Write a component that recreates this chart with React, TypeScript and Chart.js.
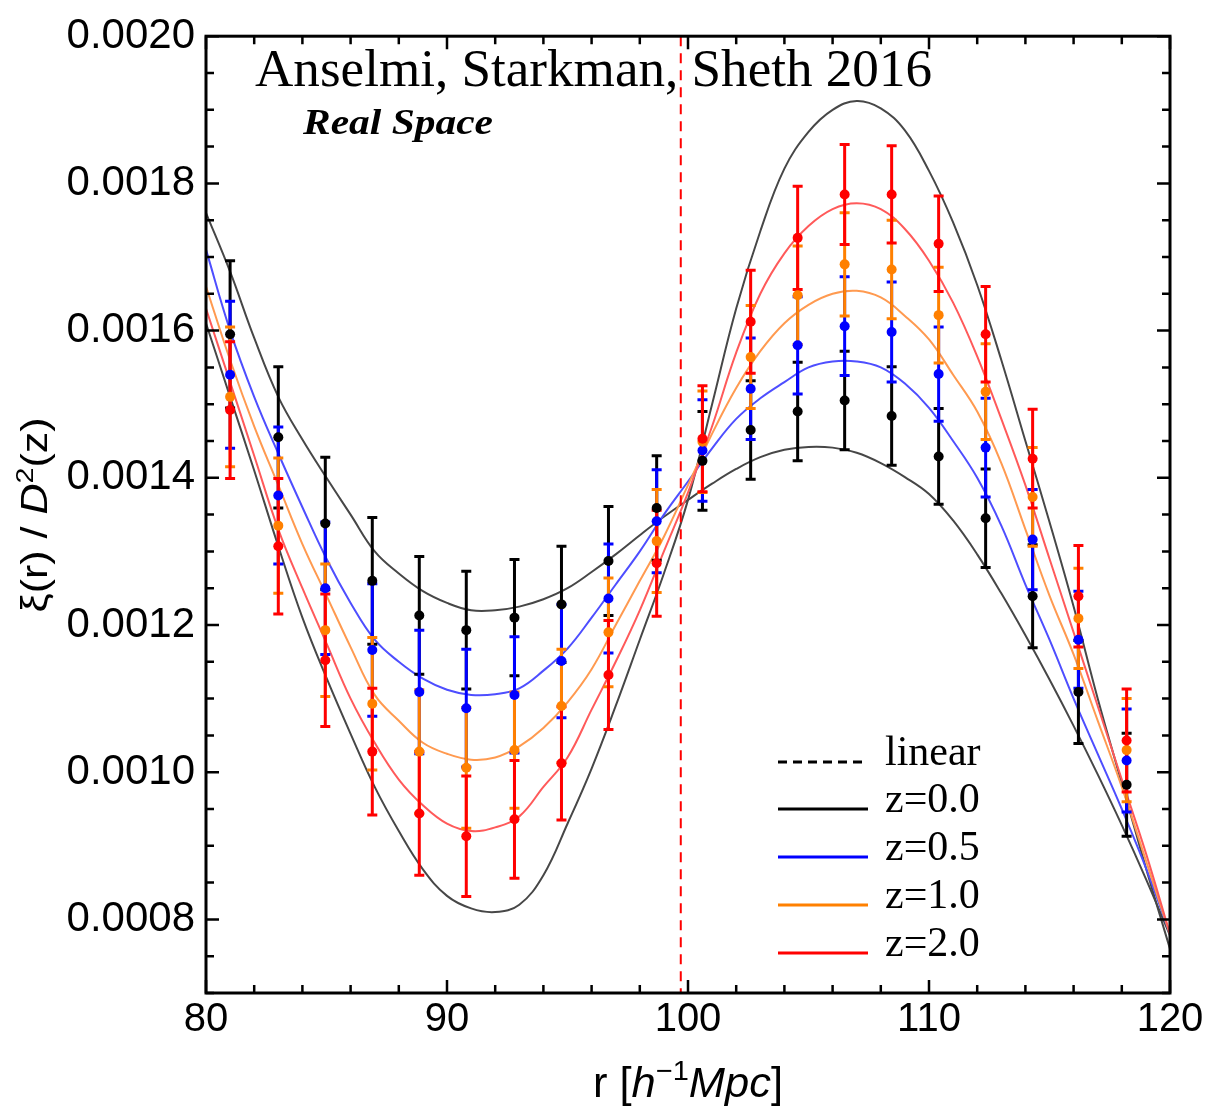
import React, { useEffect, useRef } from 'react';
import { Chart, registerables } from 'chart.js';

Chart.register(...registerables);

// ---------- data ----------
const curveR = [80, 81, 82, 83, 84, 85, 86, 87, 88, 89, 90, 91, 92, 93, 94, 95, 96, 97, 98, 99, 100,
  101, 102, 103, 104, 105, 106, 107, 108, 109, 110, 111, 112, 113, 114, 115, 116, 117, 118, 119, 120];

const linearCurve = [0.00161, 0.00151, 0.00141, 0.001307, 0.00121, 0.001128, 0.001052, 0.00098, 0.00092, 0.000868, 0.000832,
  0.000815, 0.00081, 0.00082, 0.00086, 0.00093, 0.001005, 0.00109, 0.00118, 0.00127, 0.00137,
  0.0015, 0.00163, 0.001735, 0.00182, 0.00187, 0.0019, 0.001912, 0.001902, 0.001872, 0.001817,
  0.001747, 0.001662, 0.00156, 0.00145, 0.00134, 0.001225, 0.0011, 0.000985, 0.00087, 0.00076];

const z00Curve = [0.00176, 0.00168, 0.00159, 0.00151, 0.001452, 0.0014, 0.00135, 0.0013, 0.00127, 0.001246, 0.00123,
  0.00122, 0.00122, 0.001225, 0.001235, 0.00125, 0.001272, 0.001296, 0.001322, 0.001347, 0.00137,
  0.001392, 0.001412, 0.001428, 0.001438, 0.001442, 0.001441, 0.001434, 0.00142, 0.001401, 0.001378,
  0.001342, 0.001296, 0.001243, 0.001186, 0.001126, 0.001063, 0.000997, 0.000928, 0.000855, 0.000778];

const z05Curve = [0.00171, 0.0016, 0.00151, 0.001433, 0.00136, 0.00129, 0.00123, 0.00118, 0.00115, 0.001127, 0.001112,
  0.001105, 0.001106, 0.001114, 0.001138, 0.001168, 0.00121, 0.001255, 0.0013, 0.00135, 0.001395,
  0.00144, 0.00148, 0.001508, 0.00153, 0.00155, 0.001558, 0.001558, 0.00155, 0.001528, 0.001495,
  0.00145, 0.0014, 0.001335, 0.001255, 0.00118, 0.0011, 0.001025, 0.00095, 0.00087, 0.00078];

const z10Curve = [0.00166, 0.00156, 0.00147, 0.00139, 0.00131, 0.00124, 0.00117, 0.001105, 0.00107, 0.00104, 0.001025,
  0.001017, 0.00102, 0.001035, 0.00106, 0.001095, 0.00114, 0.0012, 0.00126, 0.00132, 0.00139,
  0.00146, 0.001522, 0.001572, 0.00161, 0.001635, 0.00165, 0.001654, 0.001645, 0.00162, 0.001588,
  0.00154, 0.00149, 0.00142, 0.00133, 0.00124, 0.00116, 0.00107, 0.00098, 0.00088, 0.00078];

const z20Curve = [0.00163, 0.00153, 0.00143, 0.00133, 0.00125, 0.001175, 0.0011, 0.00104, 0.00099, 0.000955, 0.00093,
  0.00092, 0.000925, 0.00094, 0.00098, 0.00102, 0.001085, 0.00115, 0.00122, 0.0013, 0.00138,
  0.00147, 0.00157, 0.00165, 0.001705, 0.001742, 0.001765, 0.001773, 0.001765, 0.001738, 0.001695,
  0.001638, 0.001565, 0.00148, 0.00139, 0.00129, 0.00119, 0.00109, 0.00099, 0.00089, 0.00078];

const pointR = [81.0, 83.0, 84.95, 86.9, 88.85, 90.8, 92.8, 94.75, 96.7, 98.7,
  100.6, 102.6, 104.55, 106.5, 108.45, 110.4, 112.35, 114.3, 116.2, 118.2];

const z00Pts = [0.001595, 0.001455, 0.001338, 0.00126, 0.001213, 0.001193, 0.00121, 0.001228, 0.001287, 0.001359,
  0.001423, 0.001465, 0.00149, 0.001505, 0.001484, 0.001429, 0.001345, 0.001239, 0.001109, 0.000983];
const z00Err = [0.0001, 0.000096, 0.00009, 0.000086, 0.00008, 0.00008, 0.000079, 0.000079, 0.000074, 0.000071,
  0.000067, 0.000067, 0.000067, 0.000067, 0.000067, 0.000065, 0.000067, 0.00007, 0.00007, 0.00007];

const z05Pts = [0.00154, 0.001376, 0.00125, 0.001166, 0.001109, 0.001087, 0.001105, 0.001151, 0.001236, 0.001341,
  0.001437, 0.001521, 0.00158, 0.001606, 0.001598, 0.001541, 0.001441, 0.001316, 0.00118, 0.001016];
const z05Err = [0.0001, 0.000093, 0.00009, 0.00009, 0.000084, 0.00008, 0.000079, 0.000077, 0.000074, 0.00007,
  0.000069, 0.000069, 0.000066, 0.000067, 0.000068, 0.000064, 0.000067, 0.000068, 0.000066, 0.00007];

const z10Pts = [0.00151, 0.001335, 0.001193, 0.001093, 0.001028, 0.001006, 0.00103, 0.00109, 0.00119, 0.001314,
  0.001449, 0.001564, 0.001648, 0.00169, 0.001683, 0.001621, 0.001517, 0.001374, 0.001209, 0.00103];
const z10Err = [0.000095, 0.000092, 0.00009, 0.00009, 0.000084, 0.000082, 0.000079, 0.000077, 0.000074, 0.00007,
  0.000069, 0.00007, 0.000067, 0.00007, 0.000067, 0.000065, 0.000065, 0.000067, 0.000068, 0.00007];

const z20Pts = [0.001492, 0.001307, 0.001152, 0.001028, 0.000944, 0.000913, 0.000936, 0.001012, 0.001132, 0.001284,
  0.001453, 0.001612, 0.001726, 0.001785, 0.001785, 0.001718, 0.001595, 0.001426, 0.001239, 0.001043];
const z20Err = [0.000093, 0.000092, 0.00009, 0.000086, 0.000084, 0.000082, 0.00008, 0.000077, 0.000074, 0.000072,
  0.000072, 0.00007, 0.00007, 0.000068, 0.000066, 0.000065, 0.000065, 0.000067, 0.000069, 0.00007];

const xTickValues = [80, 90, 100, 110, 120];
const yTickValues = [0.0008, 0.001, 0.0012, 0.0014, 0.0016, 0.0018, 0.002];
const legendLabels = ['linear', 'z=0.0', 'z=0.5', 'z=1.0', 'z=2.0'];
const titleText = 'Anselmi, Starkman, Sheth 2016';
const subtitleText = 'Real Space';
const bcrR = 99.7;

// ---------- helpers ----------
type Part = { t: string; font: string; dy?: number };

function drawParts(ctx: CanvasRenderingContext2D, parts: Part[], targetW: number, align: 'left' | 'center') {
  const widths = parts.map((p) => {
    ctx.font = p.font;
    return ctx.measureText(p.t).width;
  });
  const total = widths.reduce((a, b) => a + b, 0);
  const sx = targetW / total;
  ctx.save();
  ctx.scale(sx, 1);
  let cx = align === 'center' ? -total / 2 : 0;
  ctx.textAlign = 'left';
  ctx.textBaseline = 'alphabetic';
  parts.forEach((p, i) => {
    ctx.font = p.font;
    ctx.fillText(p.t, cx, p.dy || 0);
    cx += widths[i];
  });
  ctx.restore();
}

export default function App() {
  const ref = useRef<HTMLCanvasElement>(null);

  useEffect(() => {
    const canvas = ref.current;
    if (!canvas) return;

    const toXY = (xs: number[], ys: number[]) => xs.map((x, i) => ({ x, y: ys[i] }));

    const barSeries = [
      { color: '#000000', vals: z00Pts, err: z00Err },
      { color: '#0000ff', vals: z05Pts, err: z05Err },
      { color: '#ff8000', vals: z10Pts, err: z10Err },
      { color: '#ff0000', vals: z20Pts, err: z20Err },
    ];

    const pointSets = [
      { color: '#ff0000', vals: z20Pts },
      { color: '#ff8000', vals: z10Pts },
      { color: '#0000ff', vals: z05Pts },
      { color: '#000000', vals: z00Pts },
    ];

    const curves = [
      { color: '#ff5a5a', vals: z20Curve },
      { color: '#ff9a50', vals: z10Curve },
      { color: '#4e4eff', vals: z05Curve },
      { color: '#474747', vals: z00Curve },
      { color: '#474747', vals: linearCurve },
    ];

    const datasets: any[] = [];
    pointSets.forEach((p) => {
      datasets.push({
        data: toXY(pointR, p.vals),
        showLine: false,
        pointRadius: 5,
        pointHoverRadius: 5,
        pointBorderWidth: 0,
        pointBackgroundColor: p.color,
        borderColor: p.color,
        backgroundColor: p.color,
      });
    });
    const firstCurveIndex = datasets.length;
    curves.forEach((c) => {
      datasets.push({
        data: toXY(curveR, c.vals),
        showLine: true,
        pointRadius: 0,
        borderColor: c.color,
        borderWidth: 2,
        tension: 0.4,
        fill: false,
      });
    });

    const errorBars = {
      id: 'errorBars',
      afterDatasetDraw(chart: any, args: any) {
        if (args.index !== firstCurveIndex) return;
        const { ctx } = chart;
        const xs = chart.scales.x;
        const ys = chart.scales.y;
        ctx.save();
        ctx.lineWidth = 3;
        ctx.lineCap = 'butt';
        barSeries.forEach((s) => {
          ctx.strokeStyle = s.color;
          pointR.forEach((r, i) => {
            const px = xs.getPixelForValue(r);
            const top = ys.getPixelForValue(s.vals[i] + s.err[i]);
            const bot = ys.getPixelForValue(s.vals[i] - s.err[i]);
            ctx.beginPath();
            ctx.moveTo(px, top);
            ctx.lineTo(px, bot);
            ctx.moveTo(px - 5, top);
            ctx.lineTo(px + 5, top);
            ctx.moveTo(px - 5, bot);
            ctx.lineTo(px + 5, bot);
            ctx.stroke();
          });
        });
        ctx.restore();
      },
    };

    const decorations = {
      id: 'decorations',
      afterDraw(chart: any) {
        const { ctx, chartArea } = chart;
        const xs = chart.scales.x;
        const ys = chart.scales.y;
        const { left, right, top, bottom } = chartArea;
        ctx.save();

        // red dashed line
        ctx.strokeStyle = '#ff0000';
        ctx.lineWidth = 2;
        ctx.setLineDash([10, 7]);
        const bx = xs.getPixelForValue(bcrR);
        ctx.beginPath();
        ctx.moveTo(bx, top);
        ctx.lineTo(bx, bottom);
        ctx.stroke();
        ctx.setLineDash([]);

        // ticks
        ctx.strokeStyle = '#000';
        ctx.lineWidth = 2.5;
        ctx.beginPath();
        for (let v = 80; v <= 120; v += 2) {
          const px = xs.getPixelForValue(v);
          const len = v % 10 === 0 ? 13 : 8;
          ctx.moveTo(px, bottom);
          ctx.lineTo(px, bottom - len);
          ctx.moveTo(px, top);
          ctx.lineTo(px, top + len);
        }
        for (let k = 14; k <= 40; k++) {
          const v = k * 0.00005;
          const py = ys.getPixelForValue(v);
          const len = k % 4 === 0 ? 13 : 8;
          ctx.moveTo(left, py);
          ctx.lineTo(left + len, py);
          ctx.moveTo(right, py);
          ctx.lineTo(right - len, py);
        }
        ctx.stroke();

        // frame
        ctx.lineWidth = 3;
        ctx.strokeRect(left, top, right - left, bottom - top);

        ctx.fillStyle = '#000';

        // title texts
        ctx.save();
        ctx.translate(255, 86);
        drawParts(ctx, [{ t: titleText, font: '53px "Liberation Serif"' }], 677, 'left');
        ctx.restore();

        ctx.save();
        ctx.translate(303, 134);
        drawParts(ctx, [{ t: subtitleText, font: 'italic bold 35px "Liberation Serif"' }], 190, 'left');
        ctx.restore();

        // axis titles
        ctx.save();
        ctx.translate(688, 1097);
        drawParts(ctx, [
          { t: 'r [', font: '42px "Liberation Sans"' },
          { t: 'h', font: 'italic 42px "Liberation Sans"' },
          { t: '\u2212', font: '28px "Liberation Sans"', dy: -17 },
          { t: '1', font: '28px "Liberation Sans"', dy: -17 },
          { t: 'Mpc', font: 'italic 42px "Liberation Sans"' },
          { t: ']', font: '42px "Liberation Sans"' },
        ], 190, 'center');
        ctx.restore();

        ctx.save();
        ctx.translate(47, 515);
        ctx.rotate(-Math.PI / 2);
        drawParts(ctx, [
          { t: '\u03be(r) / ', font: '36px "Liberation Sans"' },
          { t: 'D', font: 'italic 36px "Liberation Sans"' },
          { t: '2', font: '24px "Liberation Sans"', dy: -14 },
          { t: '(z)', font: '36px "Liberation Sans"' },
        ], 195, 'center');
        ctx.restore();

        // legend
        const rowY = [762, 809, 857, 905, 953];
        const legendColors = ['#000000', '#000000', '#0000ff', '#ff8000', '#ff0000'];
        legendLabels.forEach((lab, i) => {
          ctx.strokeStyle = legendColors[i];
          ctx.lineWidth = 3;
          ctx.setLineDash(i === 0 ? [9, 6] : []);
          ctx.beginPath();
          ctx.moveTo(778, rowY[i]);
          ctx.lineTo(868, rowY[i]);
          ctx.stroke();
          ctx.setLineDash([]);
          ctx.save();
          ctx.translate(885, rowY[i] + 3);
          ctx.fillStyle = '#000';
          ctx.font = '42px "Liberation Serif"';
          ctx.textBaseline = 'alphabetic';
          ctx.textAlign = 'left';
          ctx.fillText(lab, 0, 0);
          ctx.restore();
        });

        ctx.restore();
      },
    };

    const chart = new Chart(canvas, {
      type: 'scatter',
      data: { datasets },
      options: {
        animation: false,
        responsive: false,
        events: [],
        layout: { padding: { left: 0, right: 41, top: 30, bottom: 0 } },
        plugins: {
          legend: { display: false },
          tooltip: { enabled: false },
          title: { display: false },
        },
        scales: {
          x: {
            type: 'linear',
            min: 80,
            max: 120,
            grid: { display: false, drawTicks: false },
            border: { display: false },
            afterBuildTicks: (s: any) => {
              s.ticks = xTickValues.map((v) => ({ value: v }));
            },
            afterFit: (s: any) => {
              s.height = 117;
            },
            ticks: {
              padding: 3,
              color: '#000',
              font: { family: '"Liberation Sans"', size: 40 },
              callback: (v: any) => String(v),
              maxRotation: 0,
              autoSkip: false,
            },
          },
          y: {
            type: 'linear',
            min: 0.0007,
            max: 0.002,
            grid: { display: false, drawTicks: false },
            border: { display: false },
            afterBuildTicks: (s: any) => {
              s.ticks = yTickValues.map((v) => ({ value: v }));
            },
            afterFit: (s: any) => {
              s.width = 206;
            },
            ticks: {
              padding: 11,
              color: '#000',
              font: { family: '"Liberation Sans"', size: 42 },
              callback: (v: any) => Number(v).toFixed(4),
              autoSkip: false,
            },
          },
        },
      } as any,
      plugins: [errorBars, decorations],
    });

    return () => {
      chart.destroy();
    };
  }, []);

  return (
    <div style={{ position: 'absolute', left: 0, top: 0, width: 1211, height: 1110, background: '#fff' }}>
      <canvas ref={ref} width={1211} height={1110} style={{ display: 'block' }} />
    </div>
  );
}
